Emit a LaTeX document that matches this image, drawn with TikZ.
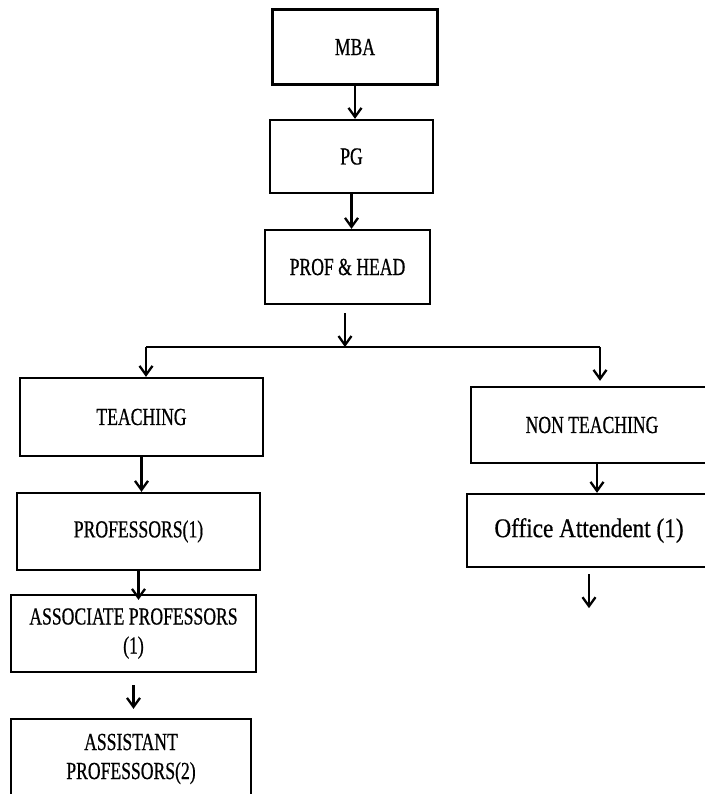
\documentclass[tikz,border=0pt]{standalone}
\usepackage{fontspec}
\setmainfont{Liberation Serif}
\newfontfamily\boxfont[FakeStretch=0.72,FakeBold=0.6]{Liberation Serif}
\newfontfamily\officefont[FakeStretch=0.86,FakeBold=0.6]{Liberation Serif}
\usetikzlibrary{arrows.meta}

\begin{document}
\begin{tikzpicture}[x=1pt,y=-1pt,>={Straight Barb[length=9pt,width=13pt]}]
    \tikzset{
        orgbox/.style={
            draw,
            line width=2.3pt,
            inner sep=0pt,
            align=center,
            font=\boxfont\fontsize{24.5}{29}\selectfont
        },
        link/.style={->,line width=2.3pt}
    }

    \useasboundingbox[fill=white] (0,0) rectangle (704,794);

    \node[orgbox,minimum width=165pt,minimum height=75pt] (mba) at (355,47) {MBA};
    \node[orgbox,minimum width=163pt,minimum height=73pt] (pg) at (351.5,156.5) {PG};
    \node[orgbox,minimum width=165pt,minimum height=74pt] (head) at (347.5,267) {PROF \& HEAD};
    \node[orgbox,minimum width=243pt,minimum height=78pt] (teach) at (141.5,417) {TEACHING};
    \node[orgbox,minimum width=242pt,minimum height=76pt] (nonteach) at (592,425) {NON TEACHING};
    \node[orgbox,minimum width=243pt,minimum height=77pt] (prof) at (138.5,531.5) {PROFESSORS(1)};
    \node[orgbox,minimum width=244pt,minimum height=73pt,font=\officefont\fontsize{27}{31}\selectfont] (office) at (589,530.5) {Office Attendent (1)};
    \node[orgbox,minimum width=245pt,minimum height=77pt] (assoc) at (133.5,633.5) {ASSOCIATE PROFESSORS\\(1)};
    \node[orgbox,minimum width=240pt,minimum height=80pt] (assist) at (131,759) {ASSISTANT\\PROFESSORS(2)};

    \coordinate (split) at (345,347);
    \coordinate (lsplit) at (146,347);
    \coordinate (rsplit) at (600,347);
    \coordinate (officeend) at ([yshift=-40pt] office.south);

    \draw[link] (mba.south) -- (mba.south |- pg.north);
    \draw[link] (pg.south) -- (pg.south |- head.north);
    \draw[link] ([yshift=-8pt] split |- head.south) -- (split);
    \draw[line width=2.3pt] (lsplit) -- (rsplit);
    \draw[link] (lsplit) -- (lsplit |- teach.north);
    \draw[link] (rsplit) -- ([yshift=5pt] rsplit |- nonteach.north);
    \draw[link] (teach.south) -- (teach.south |- prof.north);
    \draw[link] ([xshift=5pt] nonteach.south) -- ([xshift=5pt] nonteach.south |- office.north);
    \draw[link] (prof.south) -- ([yshift=-6pt] prof.south |- assoc.north);
    \draw[link] ([yshift=-12pt] assoc.south) -- ([yshift=9pt] assoc.south |- assist.north);
    \draw[link] ([yshift=-6pt] office.south) -- (officeend);
\end{tikzpicture}
\end{document}
